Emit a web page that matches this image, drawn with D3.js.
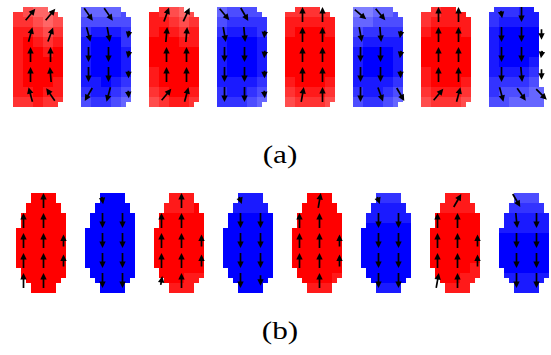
<!DOCTYPE html>
<html>
<head>
<meta charset="utf-8">
<script src="https://cdn.jsdelivr.net/npm/d3@7"></script>
<style>
  body { margin: 0; background: #fff; }
  svg { display: block; }
</style>
</head>
<body>
<svg id="fig"></svg>
<script>
// ---- data: spin states, +1 = up (red), -1 = down (blue)
const signsA = [1, -1, 1, -1, 1, -1, 1, -1];
const signsB = [1, -1, 1, -1, 1, -1, 1, -1];

// shade per 10x10 block (digit = amount of white mixed in, /10)
const shadeA = [
  ["23443","22343","11232","10121","10010","10000","10000","10001","11011","22122"],
  ["44443","33333","21112","10002","10001","10001","10001","11012","21123","32234"],
  ["12343","11232","10121","00011","00000","00000","10000","10000","21001","32112"],
  ["43333","32222","21112","10001","10001","10001","10001","11112","21123","22234"],
  ["22222","11111","10001","00000","00000","00000","00000","10001","21112","32223"],
  ["55443","44333","32222","21111","10001","10001","10001","11112","21123","32234"],
  ["22111","21111","10001","00000","00000","00000","10000","10001","21112","32223"],
  ["222111","211110","100000","100001","100001","100011","111122","222233","233344","334444"]
];
const shadeB = [
  ["00000","00000","00000","00000","00000","00000","00000","00000","00000","00000"],
  ["00000","00000","00000","00000","00000","00000","00000","00000","00000","00000"],
  ["11111","11110","00000","00000","00000","00000","00000","00000","00011","11111"],
  ["11111","11111","00000","00000","00000","00000","00000","00000","00000","00000"],
  ["00000","00000","00000","00000","00000","00000","00000","00000","00001","11111"],
  ["22222","11111","11111","00000","00000","00000","00000","00000","00000","11111"],
  ["11111","11111","00000","00000","00000","00000","00000","00001","00011","11111"],
  ["33333","22222","11111","11111","00000","00000","00000","00000","11111","11111"]
];

// arrow directions in degrees (0 = up, clockwise), null = no arrow
const anglesA = [
  [[40, 40], [15, 20], [0, 0], [0, -5], [-15, -35]],
  [[145, 145, null], [165, 170, 190], [180, 180, 190], [180, 180, 180], [210, 195, 175]],
  [[20, 25], [5, 5], [0, 0], [0, 0], [40, 15]],
  [[140, 150, null], [170, 175, 185], [180, 180, 185], [180, 180, 180], [180, 180, 175]],
  [[0, 0], [0, 0], [0, 0], [0, 0], [10, 0]],
  [[130, 140, null], [170, 175, 190], [180, 180, 190], [180, 180, 180], [180, 160, 150]],
  [[0, 0], [0, 0], [0, 0], [0, 0], [40, 15]],
  [[170, 180, null], [180, 180, 180], [180, 180, 190], [180, 175, 180], [165, 145, 135]]
];
// arrow lengths relative to the full arrow
const magsA = [
  [[1, 1], [1, 1], [1, 1], [1, 1], [1, 1]],
  [[1, 1, 0], [1, 1, .5], [1, 1, .5], [1, 1, .5], [1, 1, .5]],
  [[1, 1], [1, 1], [1, 1], [1, 1], [1, 1]],
  [[1, 1, 0], [1, 1, .5], [1, 1, .5], [1, 1, .5], [1, 1, .5]],
  [[1, 1], [1, 1], [1, 1], [1, 1], [1, 1]],
  [[1, 1, 0], [1, 1, .5], [1, 1, .5], [1, 1, .5], [1, 1, 1]],
  [[1, 1], [1, 1], [1, 1], [1, 1], [1, 1]],
  [[.5, 1, 0], [1, 1, .7], [1, 1, .5], [1, 1, .7], [1, 1, 1]]
];
const anglesB = [
  [[null, 0, null], [0, 0, null], [0, 0, 0], [0, 0, 0], [0, 0, null]],
  [[170, null], [180, 180], [180, 180], [180, 180], [180, 180]],
  [[null, 0, null], [0, 0, null], [0, 0, 0], [0, 0, 0], [10, 0, null]],
  [[160, null], [180, 180], [180, 180], [180, 180], [180, 180]],
  [[null, 10, null], [0, 0, null], [0, 0, 0], [0, 0, 0], [null, 0, null]],
  [[160, null], [180, 180], [180, 180], [180, 180], [180, 180]],
  [[null, 30, null], [0, 0, null], [0, 0, 0], [0, 0, 0], [10, 0, null]],
  [[150, null], [175, 180], [180, 180], [180, 180], [180, 180]]
];
const magsB = [
  [[0, 1, 0], [1, 1, 0], [1, 1, .8], [1, 1, .8], [1, 1, 0]],
  [[.5, 0], [1, 1], [1, 1], [1, 1], [1, 1]],
  [[0, 1, 0], [1, 1, 0], [1, 1, .8], [1, 1, .8], [.6, 1, 0]],
  [[.5, 0], [1, 1], [1, 1], [1, 1], [1, .7]],
  [[0, 1, 0], [1, 1, 0], [1, 1, .8], [1, 1, .8], [0, 1, 0]],
  [[.5, 0], [1, 1], [1, 1], [1, 1], [1, 1]],
  [[0, 1, 0], [1, 1, 0], [1, 1, .8], [1, 1, .8], [1, 1, 0]],
  [[1, 0], [1, 1], [1, 1], [1, 1], [1, 1]]
];

// occupied cells of each element (# = magnetic cell)
const rectRedMask = ["..#####...", "#########."].concat(Array(17).fill("##########"), ["#########."]);
const rectBlueMask = ["########..", "#########."].concat(Array(17).fill("##########"), ["#########."]);
const rectLastMask = [".########..", "##########."].concat(Array(14).fill("##########."), Array(4).fill("###########"));
const ellipseMask = [
  "...#####..", "...#####..", "..#######.", "..#######.",
  ".#########", ".#########", ".#########",
  "##########", "##########", "##########", "##########",
  "##########", "##########", "##########", "##########",
  ".#########", ".#########", "..#######.", "...#####..", "...#####.."
];
const panelLabels = ["(a)", "(b)"];

// ---- layout
const width = 551;
const height = 355;
const cell = 5;
const arrowLen = 15;
const colors = { up: "#ff0000", down: "#0000ff" };

const panels = [
  {
    signs: signsA, shade: shadeA, angles: anglesA, mags: magsA,
    top: 7, xRange: [11, 490], labelY: 163,
    mask: (s, i) => i === 7 ? rectLastMask : (s > 0 ? rectRedMask : rectBlueMask),
    arrowCols: (s, i) => i === 7 ? [2, 6, 10] : (s > 0 ? [3, 7] : [1, 5, 9])
  },
  {
    signs: signsB, shade: shadeB, angles: anglesB, mags: magsB,
    top: 193, xRange: [14, 501], labelY: 339,
    mask: () => ellipseMask,
    arrowCols: s => s > 0 ? [1, 5, 9] : [3, 7]
  }
];
const arrowRows = [1, 5, 9, 13, 17];

const svg = d3.select("#fig")
  .attr("width", width)
  .attr("height", height)
  .attr("viewBox", [0, 0, width, height]);

panels.forEach((p, pi) => {
  const x = d3.scalePoint().domain(d3.range(p.signs.length)).range(p.xRange).round(true);
  const g = svg.append("g");

  p.signs.forEach((s, i) => {
    const mask = p.mask(s, i);
    const nCols = mask[0].length;
    const col = d3.scaleBand().domain(d3.range(nCols)).range([0, nCols * cell]);
    const row = d3.scaleBand().domain(d3.range(mask.length)).range([0, mask.length * cell]);
    const base = s > 0 ? colors.up : colors.down;

    const el = g.append("g").attr("transform", `translate(${x(i)},${p.top})`);

    const cells = [];
    mask.forEach((line, r) => {
      line.split("").forEach((ch, c) => {
        if (ch !== "#") return;
        const blk = p.shade[i][Math.floor(r / 2)];
        const v = +blk[Math.min(Math.floor(c / 2), blk.length - 1)] / 10;
        cells.push({ r, c, v });
      });
    });

    el.selectAll("rect")
      .data(cells)
      .join("rect")
      .attr("x", d => col(d.c))
      .attr("y", d => row(d.r))
      .attr("width", col.bandwidth())
      .attr("height", row.bandwidth())
      .attr("shape-rendering", "crispEdges")
      .attr("fill", d => d3.interpolateRgb(base, "#fff")(d.v));

    // magnetisation arrows
    const cols = p.arrowCols(s, i);
    const arrows = [];
    p.angles[i].forEach((a, ri) => {
      a.forEach((ang, ci) => {
        const m = p.mags[i][ri][ci];
        if (ang === null || !m) return;
        arrows.push({
          cx: col(cols[ci]) + col.bandwidth() / 2,
          cy: row(arrowRows[ri]) + row.bandwidth() / 2,
          ang, len: arrowLen * m
        });
      });
    });

    const ag = el.selectAll("g.arrow")
      .data(arrows)
      .join("g")
      .attr("class", "arrow")
      .attr("transform", d => `translate(${d.cx},${d.cy}) rotate(${d.ang})`);

    ag.append("line")
      .attr("x1", 0).attr("y1", d => d.len / 2)
      .attr("x2", 0).attr("y2", d => -d.len / 2 + 4)
      .attr("stroke", "#000")
      .attr("stroke-width", 1.7);

    ag.append("path")
      .attr("d", d => {
        const t = -d.len / 2;
        return `M0,${t}L-3.2,${t + 6.5}L3.2,${t + 6.5}Z`;
      })
      .attr("fill", "#000");
  });

  svg.append("text")
    .attr("transform", `translate(280,${p.labelY}) scale(1.25,1)`)
    .attr("text-anchor", "middle")
    .attr("font-family", "'Liberation Serif', 'Times New Roman', serif")
    .attr("font-size", 25)
    .attr("fill", "#000")
    .text(panelLabels[pi]);
});
</script>
</body>
</html>
